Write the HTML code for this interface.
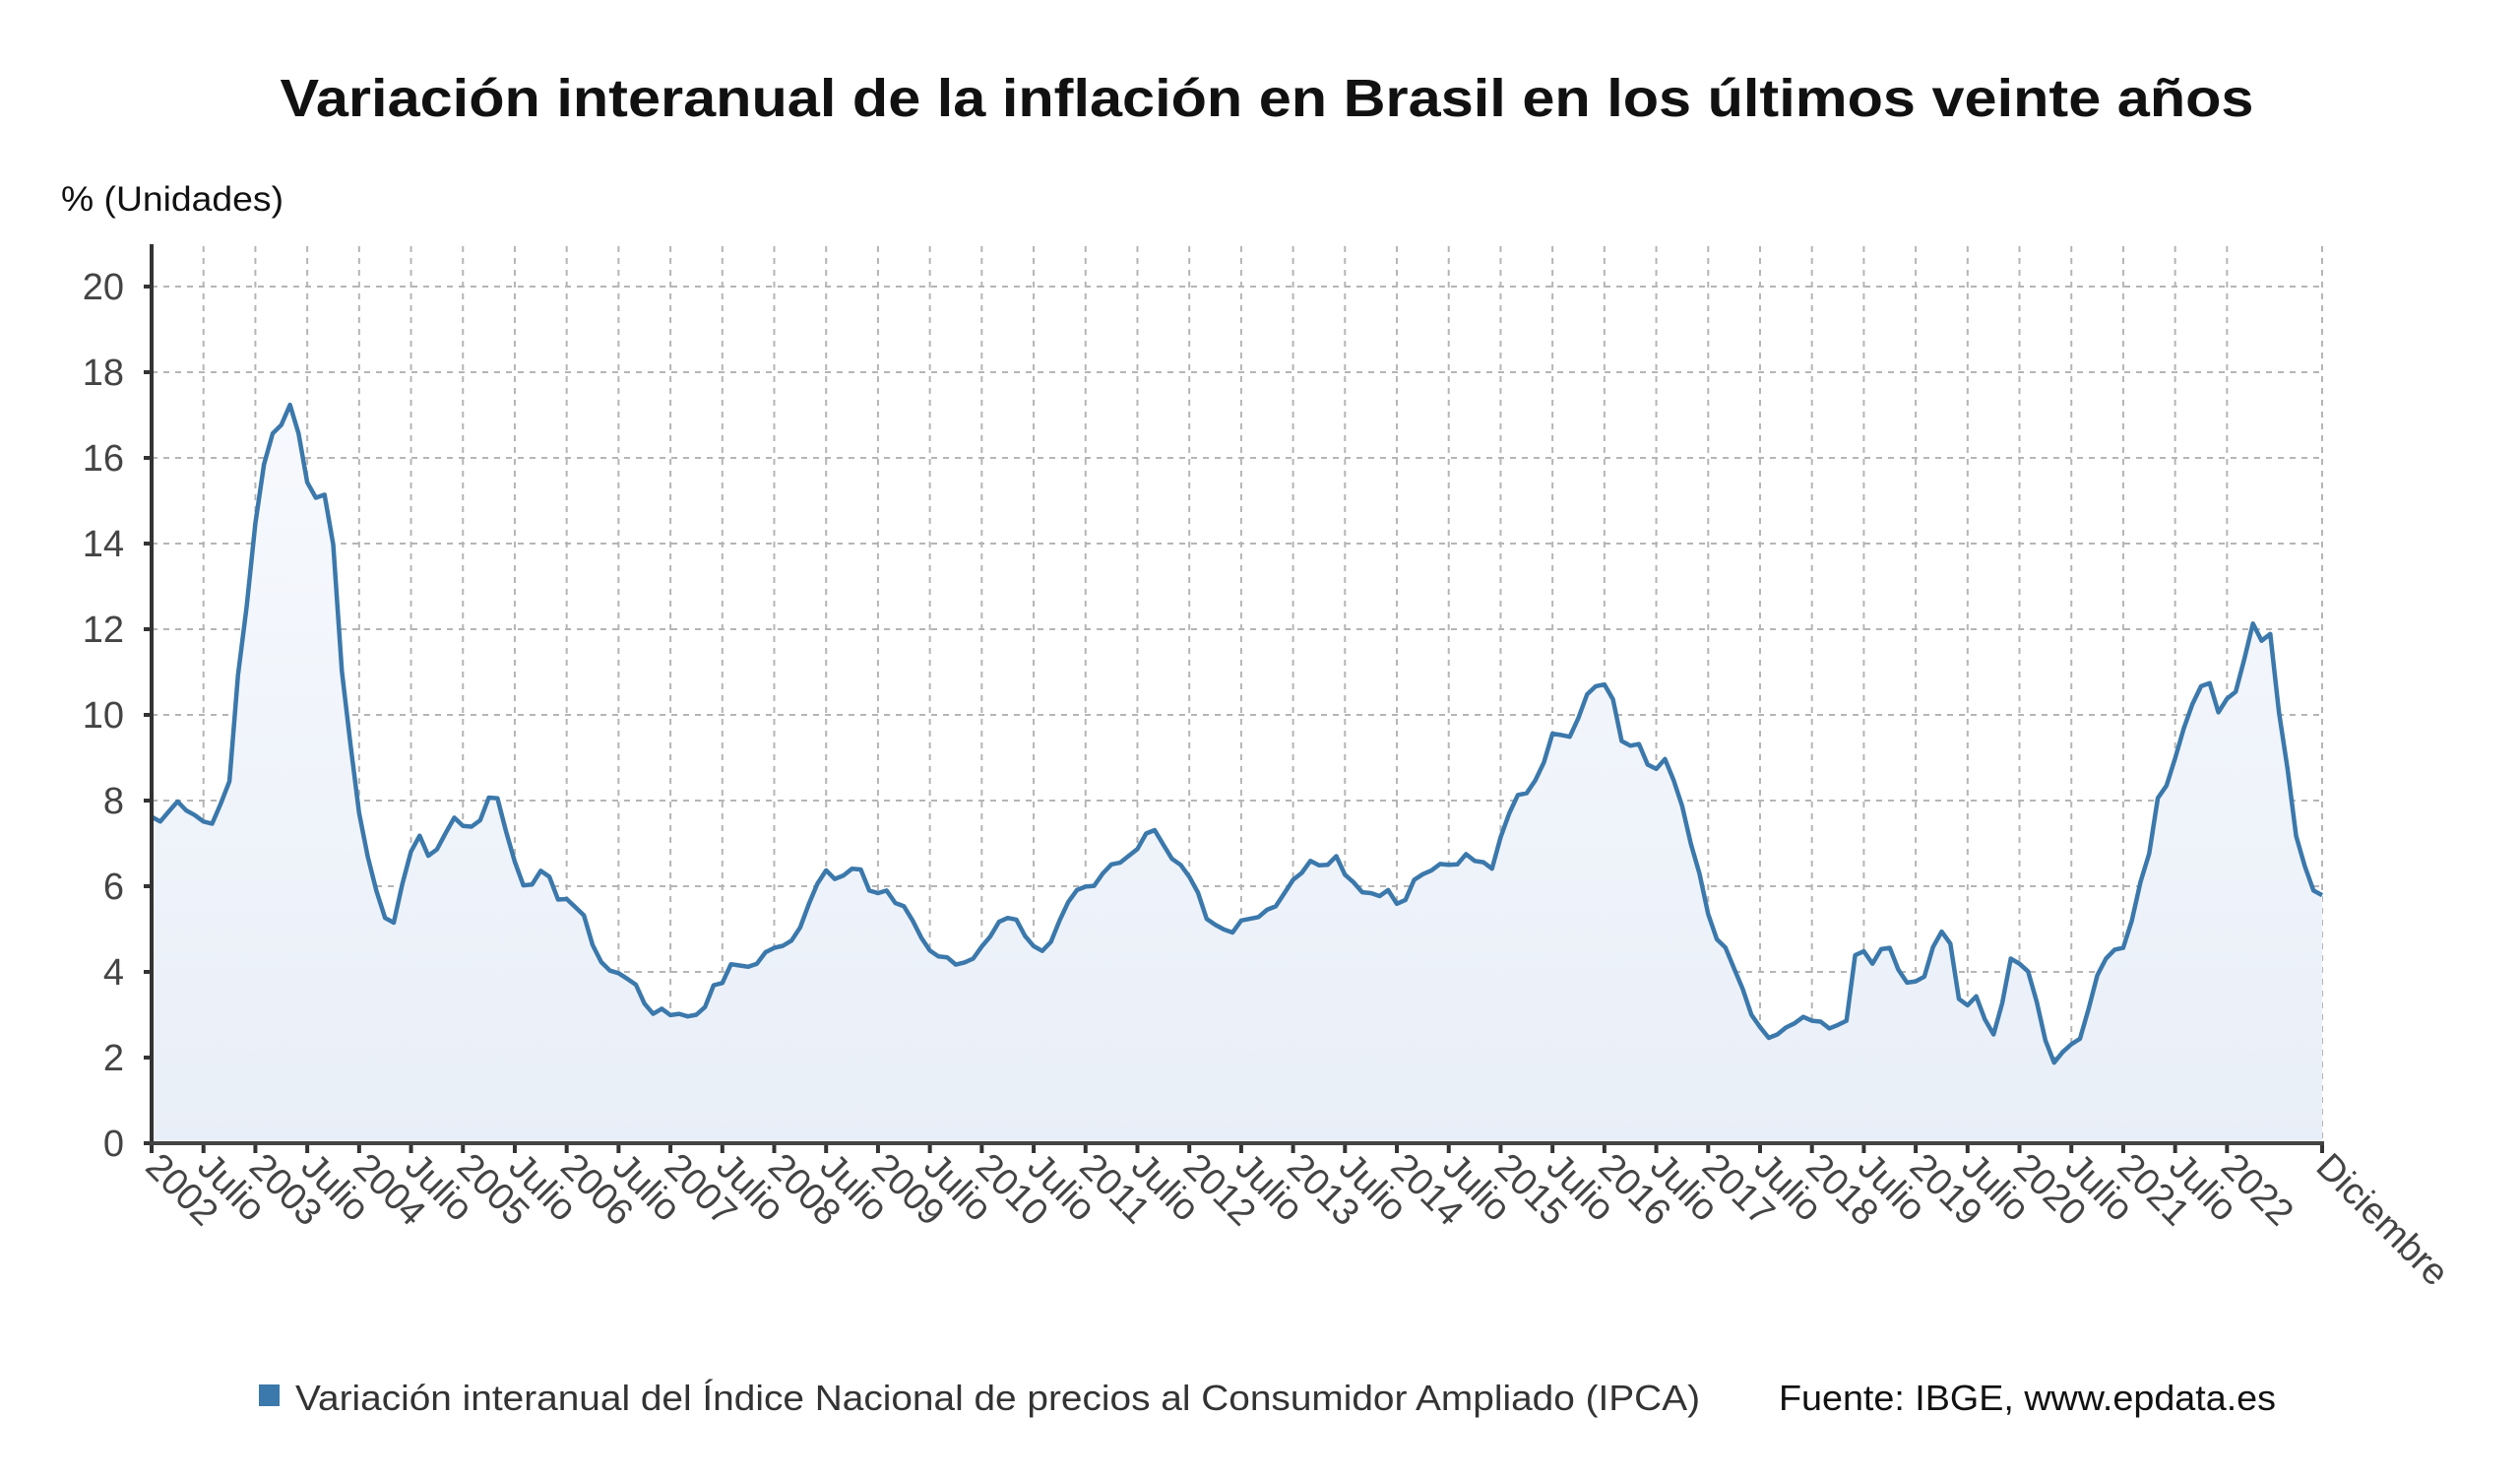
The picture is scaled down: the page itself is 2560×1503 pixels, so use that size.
<!DOCTYPE html>
<html><head><meta charset="utf-8"><style>
html,body{margin:0;padding:0;background:#fff;}
svg{display:block;font-family:"Liberation Sans","DejaVu Sans",sans-serif;}
</style></head><body>
<svg id="c" width="2560" height="1503" viewBox="0 0 2560 1503" xmlns="http://www.w3.org/2000/svg">
<defs><linearGradient id="g" x1="0" y1="0" x2="0" y2="1"><stop offset="0" stop-color="#f7f9fd"/><stop offset="1" stop-color="#e9eff8"/></linearGradient></defs>
<text x="1287" y="118" text-anchor="middle" font-size="54" font-weight="bold" fill="#111" textLength="2005" lengthAdjust="spacingAndGlyphs">Variación interanual de la inflación en Brasil en los últimos veinte años</text>
<text x="62" y="214" font-size="35" fill="#111" textLength="226" lengthAdjust="spacingAndGlyphs">% (Unidades)</text>
<g id="grid"></g>
<path id="area" fill="url(#g)"/>
<path id="line" fill="none" stroke="#3b78ab" stroke-width="4.5" stroke-linejoin="round"/>
<g id="axes"></g>
<rect x="263" y="1406" width="21" height="22" fill="#3b78ab"/>
<text x="300" y="1432" font-size="36" fill="#333" textLength="1427" lengthAdjust="spacingAndGlyphs">Variación interanual del Índice Nacional de precios al Consumidor Ampliado (IPCA)</text>
<text x="1807" y="1432" font-size="36" fill="#111" textLength="505" lengthAdjust="spacingAndGlyphs">Fuente: IBGE, www.epdata.es</text>
</svg>
<script>
var d=[7.62,7.51,7.75,7.98,7.77,7.66,7.51,7.46,7.93,8.45,10.93,12.53,
14.47,15.85,16.57,16.77,17.24,16.57,15.43,15.07,15.14,13.98,11.02,9.30,
7.71,6.69,5.89,5.26,5.15,6.06,6.81,7.18,6.71,6.86,7.24,7.60,
7.41,7.39,7.54,8.07,8.05,7.27,6.57,6.02,6.04,6.36,6.22,5.69,
5.70,5.51,5.32,4.63,4.23,4.03,3.97,3.84,3.70,3.26,3.02,3.14,
2.99,3.02,2.96,3.00,3.18,3.69,3.74,4.18,4.15,4.12,4.19,4.46,
4.56,4.61,4.73,5.04,5.58,6.06,6.37,6.17,6.25,6.41,6.39,5.90,
5.84,5.90,5.61,5.53,5.20,4.80,4.50,4.36,4.34,4.17,4.22,4.31,
4.59,4.83,5.17,5.26,5.22,4.84,4.60,4.49,4.70,5.20,5.63,5.91,
5.99,6.01,6.30,6.51,6.55,6.71,6.87,7.23,7.31,6.97,6.64,6.50,
6.22,5.85,5.24,5.10,4.99,4.92,5.20,5.24,5.28,5.45,5.53,5.84,
6.15,6.31,6.59,6.49,6.50,6.70,6.27,6.09,5.86,5.84,5.77,5.91,
5.59,5.68,6.15,6.28,6.37,6.52,6.50,6.51,6.75,6.59,6.56,6.41,
7.14,7.70,8.13,8.17,8.47,8.89,9.56,9.53,9.49,9.93,10.48,10.67,
10.71,10.36,9.39,9.28,9.32,8.84,8.74,8.97,8.48,7.87,6.99,6.29,
5.35,4.76,4.57,4.08,3.60,3.00,2.71,2.46,2.54,2.70,2.80,2.95,
2.86,2.84,2.68,2.76,2.86,4.39,4.48,4.19,4.53,4.56,4.05,3.75,
3.78,3.89,4.58,4.94,4.66,3.37,3.22,3.43,2.89,2.54,3.27,4.31,
4.19,4.01,3.30,2.40,1.88,2.13,2.31,2.44,3.14,3.92,4.31,4.52,
4.56,5.20,6.10,6.76,8.06,8.35,8.99,9.68,10.25,10.67,10.74,10.06,
10.38,10.54,11.30,12.13,11.73,11.89,10.07,8.73,7.17,6.47,5.90,5.79];
var L=154,R=2359,Y0=1161,Y20=291,n=d.length;
function X(i){return L+(R-L)*i/(n-1);}
function Y(v){return Y0-(Y0-Y20)*v/20;}
var p="";for(var i=0;i<n;i++)p+=(i?"L":"M")+X(i).toFixed(1)+","+Y(d[i]).toFixed(1);
document.getElementById("line").setAttribute("d",p);
document.getElementById("area").setAttribute("d",p+"L"+R+","+Y0+"L"+L+","+Y0+"Z");
var g="",a="";
for(var v=0;v<=20;v+=2){var y=Y(v);
 if(v>0)g+='<line x1="'+L+'" x2="'+R+'" y1="'+y+'" y2="'+y+'" stroke="#b5b5b5" stroke-width="2" stroke-dasharray="6,6"/>';
 a+='<line x1="'+(L-8)+'" x2="'+L+'" y1="'+y+'" y2="'+y+'" stroke="#333" stroke-width="4"/>';
 a+='<text x="126" y="'+(y+13)+'" text-anchor="end" font-size="38" fill="#444">'+v+'</text>';}
for(var k=0;k<=41;k++){var x=(k==41)?R:X(k*6);
 g+='<line x1="'+x+'" x2="'+x+'" y1="250" y2="'+Y0+'" stroke="#b5b5b5" stroke-width="2" stroke-dasharray="6,6"/>';
 a+='<line x1="'+x+'" x2="'+x+'" y1="'+Y0+'" y2="'+(Y0+10)+'" stroke="#333" stroke-width="4"/>';
 var lab=(k==41)?"Diciembre":(k%2==0?String(2002+k/2):"Julio");
 a+='<text transform="translate('+(x-8)+','+(Y0+26)+') rotate(45)" font-size="38" fill="#444">'+lab+'</text>';}
a+='<line x1="'+L+'" x2="'+L+'" y1="248" y2="'+(Y0+2)+'" stroke="#333" stroke-width="4"/>';
a+='<line x1="'+(L-2)+'" x2="'+(R+2)+'" y1="'+Y0+'" y2="'+Y0+'" stroke="#444" stroke-width="4"/>';
document.getElementById("grid").innerHTML=g;
document.getElementById("axes").innerHTML=a;
</script>
</body></html>
